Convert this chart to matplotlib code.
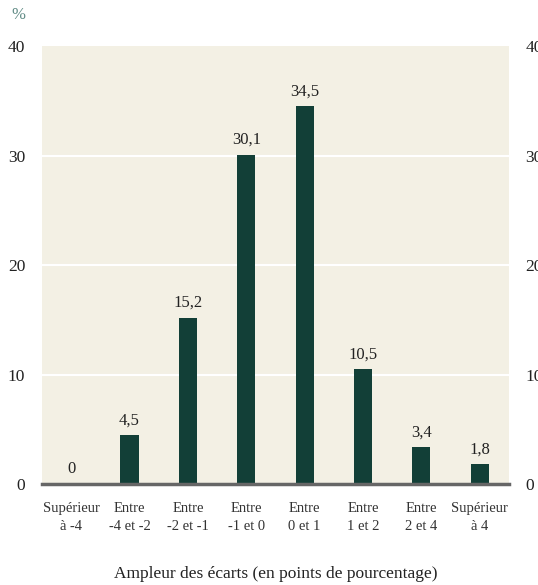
import matplotlib.pyplot as plt

categories = ['Supérieur\nà -4', 'Entre\n-4 et -2', 'Entre\n-2 et -1', 'Entre\n-1 et 0',
              'Entre\n0 et 1', 'Entre\n1 et 2', 'Entre\n2 et 4', 'Supérieur\nà 4']
values = [0, 4.5, 15.2, 30.1, 34.5, 10.5, 3.4, 1.8]
labels = ['0', '4,5', '15,2', '30,1', '34,5', '10,5', '3,4', '1,8']
yticks = [0, 10, 20, 30, 40]

plt.rcParams['font.family'] = ['Liberation Serif', 'DejaVu Serif']

fig = plt.figure(figsize=(5.38, 5.85), dpi=100)
ax = fig.add_axes([0.078, 0.1726, 0.868, 0.7484])
ax.set_facecolor('#f3f0e4')

x = range(len(values))
ax.bar(x, values, width=0.31, color='#123f37', zorder=3)
for xi, v, lab in zip(x, values, labels):
    ax.text(xi, v + 0.6, lab, ha='center', va='bottom', fontsize=12, color='#222222', zorder=4)

ax.set_xlim(-0.5, 7.5)
ax.set_ylim(0, 40)
ax.set_yticks(yticks)
for y in yticks[1:-1]:
    ax.axhline(y, color='white', linewidth=1.5, zorder=1)

for s in ['top', 'right', 'left']:
    ax.spines[s].set_visible(False)
ax.spines['bottom'].set_color('#666666')
ax.spines['bottom'].set_linewidth(2.5)
ax.spines['bottom'].set_zorder(5)

ax.set_xticks(list(x))
ax.set_xticklabels(categories, fontsize=10.5, color='#333333', linespacing=1.45)
ax.tick_params(axis='x', length=0, pad=13)
ax.tick_params(axis='y', length=0, labelsize=12.5, labelcolor='#222222', pad=12,
               labelright=True)
ax.set_xlabel('Ampleur des écarts (en points de pourcentage)', fontsize=12.5, color='#222222',
              labelpad=24)

fig.text(0.022, 0.975, '%', fontsize=12, color='#5f8a84', ha='left', va='center')

fig.savefig('out.png', dpi=100, facecolor='white')
